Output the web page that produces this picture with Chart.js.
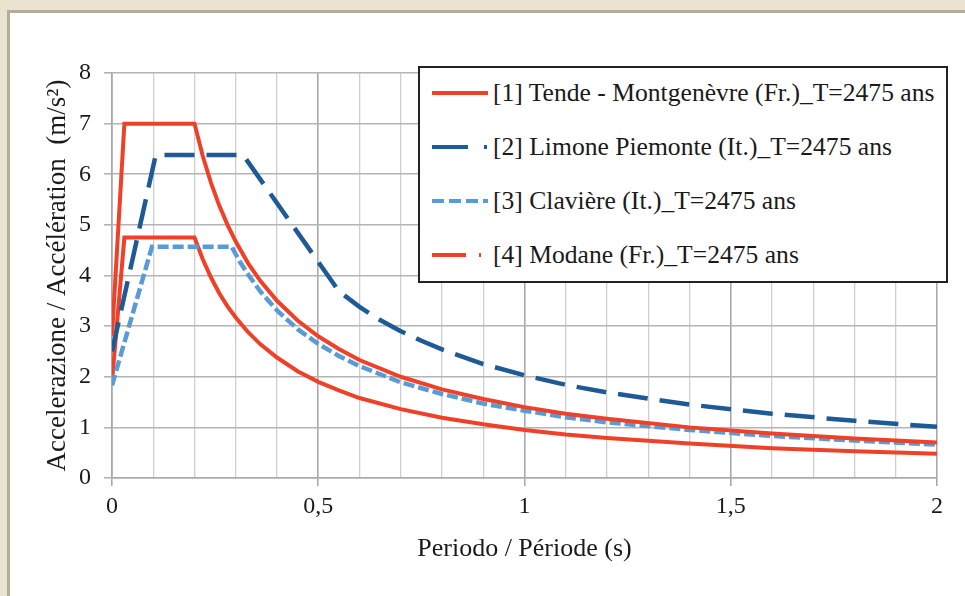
<!DOCTYPE html>
<html>
<head>
<meta charset="utf-8">
<script src="https://cdn.jsdelivr.net/npm/chart.js@4.4.1/dist/chart.umd.min.js"></script>
<style>
  html, body { margin: 0; padding: 0; }
  body { width: 965px; height: 596px; background: #e9e3cf; position: relative; overflow: hidden; font-family: "Liberation Serif", "Times New Roman", serif; }
  #panel { position: absolute; left: 7px; top: 10px; right: 0; bottom: 0; background: #fff; border-top: 3px solid #b3ae9a; border-left: 3px solid #b3ae9a; }
  #chart { position: absolute; left: 0; top: 0; }
  #legend { position: absolute; left: 418px; top: 66px; width: 526px; height: 213px; border: 2px solid #222; background: #fff; }
  .row { position: absolute; left: 0; height: 54px; display: flex; align-items: center; }
  .row svg { margin-left: 12px; flex: none; }
  .row span { margin-left: 5px; font-size: 25.6px; color: #1a1a1a; white-space: nowrap; }
</style>
</head>
<body>
<div id="panel"></div>
<canvas id="chart" width="965" height="596"></canvas>
<div id="legend"></div>
<script>
// spectra: period (s) and acceleration (m/s²)
const seriesNames = [
  "[1] Tende - Montgenèvre (Fr.)_T=2475 ans",
  "[2] Limone Piemonte (It.)_T=2475 ans",
  "[3] Clavière (It.)_T=2475 ans",
  "[4] Modane (Fr.)_T=2475 ans"
];

const tendeT = [0, 0.03, 0.2, 0.22, 0.24, 0.26, 0.28, 0.3, 0.33, 0.36, 0.4, 0.45, 0.5, 0.55, 0.6, 0.7, 0.8, 0.9, 1.0, 1.1, 1.2, 1.4, 1.6, 1.8, 2.0];
const tendeA = [2.8, 7.0, 7.0, 6.36, 5.83, 5.38, 5.0, 4.67, 4.24, 3.89, 3.5, 3.11, 2.8, 2.55, 2.33, 2.0, 1.75, 1.56, 1.4, 1.27, 1.17, 1.0, 0.88, 0.78, 0.7];

const limoneT = [0, 0.106, 0.318, 0.55, 0.6, 0.65, 0.7, 0.75, 0.8, 0.9, 1.0, 1.1, 1.2, 1.4, 1.6, 1.8, 2.0];
const limoneA = [2.5, 6.38, 6.38, 3.69, 3.38, 3.12, 2.9, 2.71, 2.54, 2.25, 2.03, 1.84, 1.69, 1.45, 1.27, 1.13, 1.01];

const claviereT = [0, 0.097, 0.29, 0.31, 0.33, 0.36, 0.4, 0.45, 0.5, 0.55, 0.6, 0.7, 0.8, 0.9, 1.0, 1.1, 1.2, 1.4, 1.6, 1.8, 2.0];
const claviereA = [1.83, 4.57, 4.57, 4.27, 4.02, 3.68, 3.31, 2.94, 2.65, 2.41, 2.21, 1.89, 1.66, 1.47, 1.33, 1.2, 1.1, 0.95, 0.83, 0.74, 0.66];

const modaneT = [0, 0.03, 0.2, 0.22, 0.24, 0.26, 0.28, 0.3, 0.33, 0.36, 0.4, 0.45, 0.5, 0.55, 0.6, 0.7, 0.8, 0.9, 1.0, 1.1, 1.2, 1.4, 1.6, 1.8, 2.0];
const modaneA = [1.9, 4.75, 4.75, 4.32, 3.96, 3.65, 3.39, 3.17, 2.88, 2.64, 2.38, 2.11, 1.9, 1.73, 1.58, 1.36, 1.19, 1.06, 0.95, 0.86, 0.79, 0.68, 0.59, 0.53, 0.48];

const xTicksShown = [0, 0.5, 1, 1.5, 2];

const RED = "#ee4128";
const DARK = "#1e5a96";
const LIGHT = "#5b9bd5";

function pts(xs, ys) {
  return xs.map((x, i) => ({ x: x, y: ys[i] }));
}

function isMajor(v) {
  return xTicksShown.some(t => Math.abs(t - v) < 1e-6);
}

const serif = "'Liberation Serif', 'Times New Roman', serif";

const datasets = [
  { label: seriesNames[0], data: pts(tendeT, tendeA), borderColor: RED, borderWidth: 4, legendDash: "" },
  { label: seriesNames[1], data: pts(limoneT, limoneA), borderColor: DARK, borderWidth: 4.5, borderDash: [30, 12], legendDash: "36 16 3 10" },
  { label: seriesNames[2], data: pts(claviereT, claviereA), borderColor: LIGHT, borderWidth: 4.5, borderDash: [11, 4], legendDash: "12 5" },
  { label: seriesNames[3], data: pts(modaneT, modaneA), borderColor: RED, borderWidth: 4, legendDash: "34 13 2 10" }
];

datasets.forEach(d => {
  d.pointRadius = 0;
  d.tension = 0;
  d.fill = false;
  d.borderCapStyle = "butt";
});

const ctx = document.getElementById("chart").getContext("2d");
const chart = new Chart(ctx, {
  type: "line",
  data: { datasets: datasets },
  options: {
    responsive: false,
    animation: false,
    layout: { padding: { top: 73, right: 28, left: 0, bottom: 0 } },
    plugins: { legend: { display: false }, tooltip: { enabled: false } },
    scales: {
      x: {
        type: "linear",
        min: 0,
        max: 2,
        afterFit: s => { s.height = 118; },
        ticks: {
          stepSize: 0.1,
          autoSkip: false,
          maxRotation: 0,
          padding: 6,
          color: "#1a1a1a",
          font: { family: serif, size: 24 },
          callback: v => isMajor(v) ? String(Math.round(v * 10) / 10).replace(".", ",") : ""
        },
        grid: {
          color: c => isMajor(c.tick.value) ? "#a9a9a9" : "#cfcfcf",
          lineWidth: c => isMajor(c.tick.value) ? 1.6 : 1.3,
          tickColor: c => isMajor(c.tick.value) ? "#a9a9a9" : "rgba(0,0,0,0)",
          tickLength: 8
        },
        border: { color: "#a9a9a9", width: 1.6 },
        title: {
          display: true,
          text: "Periodo / Période (s)",
          color: "#1a1a1a",
          font: { family: serif, size: 26 },
          padding: { top: 0, bottom: 31 }
        }
      },
      y: {
        min: 0,
        max: 8,
        afterFit: s => { s.width = 112; },
        ticks: {
          stepSize: 1,
          padding: 13,
          color: "#1a1a1a",
          font: { family: serif, size: 24 }
        },
        grid: { color: "#b4b4b4", lineWidth: 1.6, tickLength: 8 },
        border: { color: "#a9a9a9", width: 1.6 },
        title: {
          display: true,
          text: "Accelerazione / Accélération  (m/s²)",
          color: "#1a1a1a",
          font: { family: serif, size: 27 },
          padding: { top: 42, bottom: 0 }
        }
      }
    }
  }
});

// legend box drawn in HTML from the datasets
const legend = document.getElementById("legend");
datasets.forEach((d, i) => {
  const row = document.createElement("div");
  row.className = "row";
  row.style.top = (-2 + 54 * i) + "px";
  const dash = d.legendDash ? ' stroke-dasharray="' + d.legendDash + '"' : "";
  row.innerHTML = '<svg width="56" height="8"><line x1="0" y1="4" x2="56" y2="4" stroke="' +
    d.borderColor + '" stroke-width="4"' + dash + '/></svg><span>' + d.label + '</span>';
  legend.appendChild(row);
});
</script>
</body>
</html>
